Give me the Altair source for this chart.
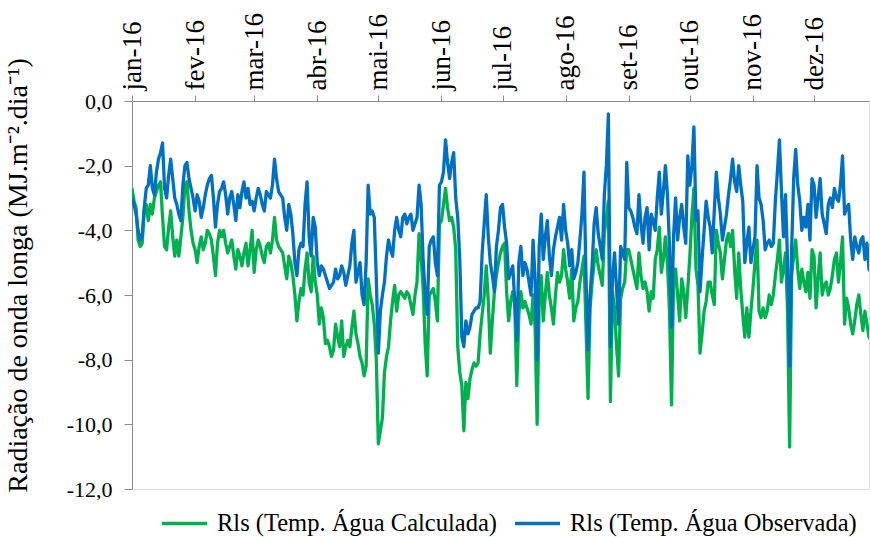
import altair as alt
import pandas as pd

# Daily values (1 Jan 2016 onward)
calc_jan = [-2.7, -3.1, -3.3, -4.3, -4.5, -4.4, -3.4, -3.2, -3.7, -3.2, -3.5, -3.0, -2.8, -2.6, -2.5, -3.6, -4.5, -4.6, -3.9, -3.4, -4.2, -4.8, -4.3, -4.8, -4.2, -3.6, -2.6, -2.5, -3.4, -4.0, -4.4]
calc_fev = [-4.6, -5.0, -4.5, -4.2, -4.6, -4.4, -4.0, -4.1, -4.3, -4.8, -5.4, -4.4, -4.0, -4.2, -4.0, -4.4, -4.7, -4.5, -4.3, -4.8, -5.2, -4.6, -4.8, -5.1, -4.7, -4.4, -5.1, -4.6, -4.0]
calc_mar = [-5.3, -4.6, -4.3, -4.5, -4.8, -5.0, -4.5, -4.4, -4.7, -4.3, -3.6, -4.3, -4.5, -4.6, -4.7, -5.1, -5.5, -4.8, -5.0, -5.4, -6.0, -6.8, -6.2, -5.8, -6.0, -5.2, -4.7, -5.6, -5.9, -4.8, -5.6]
calc_abr = [-6.0, -6.9, -6.4, -6.7, -7.5, -7.4, -7.6, -7.9, -7.7, -6.9, -7.3, -7.6, -6.8, -7.9, -7.6, -7.4, -7.6, -7.0, -6.5, -7.2, -7.5, -7.9, -8.1, -8.5, -8.2, -5.5, -6.0, -6.3, -6.9, -8.0]
calc_mai = [-10.6, -10.2, -9.8, -8.4, -7.9, -7.6, -6.8, -6.2, -5.7, -6.5, -6.0, -5.9, -6.0, -6.1, -5.9, -6.0, -6.3, -6.6, -6.0, -5.6, -4.1, -4.8, -5.8, -7.5, -8.5, -6.0, -5.9, -5.8, -6.2, -6.8, -3.8]
calc_jun = [-3.7, -3.2, -2.7, -3.3, -3.7, -3.6, -3.9, -4.6, -7.6, -8.4, -8.8, -10.2, -8.7, -9.2, -8.6, -8.3, -8.1, -8.2, -8.1, -7.2, -6.6, -6.0, -5.1, -6.2, -7.8, -6.8, -5.9, -5.4, -5.0, -4.7]
calc_jul = [-4.5, -4.4, -5.9, -6.8, -6.2, -5.9, -6.3, -8.8, -6.6, -5.9, -6.4, -6.2, -6.4, -6.6, -6.9, -6.0, -7.0, -10.0, -6.2, -5.4, -6.8, -6.0, -5.3, -6.0, -6.4, -6.9, -6.0, -5.3, -5.6, -5.4, -4.6]
calc_ago = [-5.2, -5.6, -6.1, -5.2, -6.8, -6.4, -6.2, -5.6, -5.2, -4.8, -7.0, -9.2, -6.4, -5.6, -5.0, -4.6, -5.1, -5.4, -5.7, -4.1, -3.6, -3.1, -9.3, -5.9, -6.4, -7.6, -8.5, -6.1, -5.8, -5.6, -4.6]
calc_set = [-4.6, -4.9, -5.2, -5.5, -5.8, -4.7, -5.4, -5.8, -5.6, -5.9, -6.5, -5.9, -6.1, -4.9, -4.6, -3.9, -5.3, -4.9, -4.2, -5.0, -6.5, -9.4, -5.6, -5.2, -6.0, -6.8, -5.5, -5.9, -6.7, -5.8]
calc_out = [-4.8, -3.6, -2.7, -5.2, -5.7, -7.8, -7.2, -6.5, -6.2, -5.6, -5.6, -6.0, -6.3, -4.0, -4.4, -4.7, -5.5, -4.9, -4.3, -4.1, -4.5, -4.0, -5.2, -6.1, -4.7, -5.8, -6.6, -7.3, -6.4, -7.3, -6.5]
calc_nov = [-5.8, -5.0, -4.3, -6.5, -6.7, -6.4, -6.7, -6.5, -6.0, -6.3, -6.0, -5.4, -4.9, -4.3, -5.6, -5.2, -4.7, -6.5, -10.7, -5.4, -4.8, -4.3, -5.2, -5.8, -5.2, -5.6, -5.9, -5.3, -6.1, -4.6]
calc_dez = [-4.8, -6.4, -5.5, -4.7, -6.0, -5.7, -5.6, -6.0, -5.8, -5.4, -4.9, -4.7, -5.6, -5.0, -4.2, -6.9, -6.1, -6.4, -6.9, -7.2, -6.8, -6.3, -6.0, -6.6, -7.1, -6.5, -6.9, -7.3, -7.4]

obs_jan = [-3.0, -3.2, -3.5, -4.0, -4.3, -4.2, -3.3, -2.7, -2.6, -2.0, -2.7, -2.9, -2.2, -1.8, -1.6, -1.3, -2.7, -3.0, -2.3, -1.8, -2.4, -3.0, -3.2, -3.5, -3.7, -2.6, -2.0, -1.9, -2.4, -2.7, -3.0]
obs_fev = [-3.4, -2.9, -3.1, -3.6, -3.3, -2.9, -2.6, -2.4, -2.3, -3.0, -3.9, -3.2, -2.8, -2.7, -2.5, -2.9, -3.5, -3.0, -2.8, -3.2, -3.7, -2.9, -3.3, -2.8, -2.5, -3.0, -2.7, -3.2, -3.1]
obs_mar = [-3.4, -3.0, -2.7, -2.9, -3.2, -3.4, -2.8, -2.9, -3.0, -2.6, -1.8, -2.4, -2.8, -2.9, -3.0, -3.6, -4.0, -3.2, -3.5, -4.1, -5.0, -5.4, -4.6, -4.4, -4.5, -3.2, -2.5, -4.2, -4.8, -3.6, -3.9]
obs_abr = [-5.0, -5.4, -5.1, -5.2, -5.4, -5.6, -5.8, -5.7, -5.6, -5.2, -5.5, -5.4, -5.1, -5.3, -5.7, -5.4, -5.1, -4.4, -4.0, -5.6, -5.3, -5.0, -6.0, -6.3, -5.0, -2.6, -3.5, -3.4, -3.6, -5.5]
obs_mai = [-7.8, -6.5, -6.0, -5.6, -4.8, -4.3, -4.6, -4.8, -4.0, -3.6, -4.0, -4.2, -3.6, -3.5, -3.8, -3.6, -3.5, -4.0, -3.8, -3.6, -2.6, -3.2, -4.9, -6.0, -6.6, -4.5, -4.3, -4.2, -5.0, -5.4, -2.6]
obs_jun = [-2.5, -2.2, -1.2, -1.9, -2.4, -1.9, -1.6, -3.0, -3.6, -4.9, -7.3, -7.6, -6.8, -7.2, -7.0, -6.6, -6.5, -6.4, -6.4, -6.2, -4.7, -3.8, -2.9, -4.2, -5.0, -5.4, -5.9, -4.5, -4.0, -3.3]
obs_jul = [-3.2, -3.9, -4.4, -5.5, -5.3, -5.1, -6.2, -7.4, -5.0, -4.5, -5.4, -5.0, -5.2, -5.6, -6.0, -4.3, -5.5, -8.0, -4.5, -3.5, -4.9, -4.2, -3.7, -4.8, -5.4, -4.6, -4.2, -3.9, -3.6, -4.3, -3.2]
obs_ago = [-4.0, -4.4, -5.1, -4.6, -5.5, -5.3, -5.0, -4.3, -3.5, -2.2, -5.5, -7.7, -6.0, -5.1, -3.8, -3.3, -4.1, -4.5, -4.9, -2.9, -2.0, -0.4, -7.6, -5.5, -4.7, -5.8, -6.9, -4.5, -4.7, -4.9, -1.9]
obs_set = [-3.3, -3.4, -3.6, -3.9, -4.1, -2.9, -3.8, -4.4, -3.6, -3.3, -4.6, -3.5, -3.7, -4.0, -3.0, -2.2, -3.5, -2.8, -2.0, -2.9, -4.5, -7.0, -4.2, -3.0, -4.3, -3.6, -3.2, -3.9, -4.4, -1.7]
obs_out = [-2.6, -2.0, -0.8, -3.7, -3.4, -5.9, -4.9, -4.0, -3.1, -3.6, -3.9, -4.7, -3.4, -2.2, -3.0, -3.5, -4.3, -3.9, -3.5, -2.9, -2.4, -1.8, -2.5, -2.8, -2.0, -2.6, -3.1, -5.0, -4.4, -3.9, -5.0]
obs_nov = [-4.6, -4.2, -2.0, -3.0, -3.2, -3.7, -4.6, -4.4, -4.3, -4.5, -4.4, -3.1, -2.2, -1.2, -2.8, -4.2, -2.9, -5.0, -8.2, -4.6, -2.4, -1.5, -2.6, -3.1, -4.0, -3.6, -3.9, -3.2, -4.3, -2.4]
obs_dez = [-2.6, -3.6, -3.0, -2.4, -3.5, -3.8, -4.1, -3.2, -3.0, -3.3, -2.7, -3.0, -3.1, -2.6, -1.7, -3.5, -3.3, -3.2, -4.3, -4.9, -4.2, -4.5, -4.7, -4.3, -4.2, -4.9, -4.4, -5.2, -5.3]

month_labels = ["jan-16", "fev-16", "mar-16", "abr-16", "mai-16", "jun-16",
                "jul-16", "ago-16", "set-16", "out-16", "nov-16", "dez-16"]
month_start_day = [0, 31, 60, 91, 121, 152, 182, 213, 244, 274, 305, 335]
y_ticks = [-12, -10, -8, -6, -4, -2, 0]

calc_label = "Rls (Temp. Água Calculada)"
obs_label = "Rls (Temp. Água Observada)"

calc = (calc_jan + calc_fev + calc_mar + calc_abr + calc_mai + calc_jun +
        calc_jul + calc_ago + calc_set + calc_out + calc_nov + calc_dez)
obs = (obs_jan + obs_fev + obs_mar + obs_abr + obs_mai + obs_jun +
       obs_jul + obs_ago + obs_set + obs_out + obs_nov + obs_dez)

rows = []
for i, v in enumerate(calc):
    rows.append({"day": i, "valor": v, "serie": calc_label})
for i, v in enumerate(obs):
    rows.append({"day": i, "valor": v, "serie": obs_label})
df = pd.DataFrame(rows)

font = "Liberation Serif"
gray = "#8C8C8C"

labels_js = "[" + ",".join("'" + m + "'" for m in month_labels) + "]"
starts_js = "[" + ",".join(str(d) for d in month_start_day) + "]"

chart = alt.Chart(df).mark_line(strokeWidth=3.3, clip=True, strokeJoin="round").encode(
    x=alt.X("day:Q",
            scale=alt.Scale(domain=[0, 362], nice=False, zero=False),
            axis=alt.Axis(orient="top", values=month_start_day,
                          labelExpr=labels_js + "[indexof(" + starts_js + ", datum.value)]",
                          labelAngle=270, labelAlign="left", labelBaseline="middle",
                          labelFont=font, labelFontSize=27, labelColor="black",
                          labelPadding=5, tickSize=6, tickColor=gray, domainColor=gray,
                          grid=False, title=None, labelOverlap=False)),
    y=alt.Y("valor:Q",
            scale=alt.Scale(domain=[-12, 0], nice=False),
            axis=alt.Axis(values=y_ticks,
                          labelExpr="replace(replace(format(datum.value, '.1f'), '.', ','), '\u2212', '-')",
                          labelFont=font, labelFontSize=22, labelColor="black",
                          labelPadding=12, tickSize=8, tickColor=gray, domainColor=gray,
                          grid=False,
                          title="Radiação de onda longa (MJ.m\u207b\u00b2.dia\u207b\u00b9)",
                          titleFont=font, titleFontSize=28, titleFontWeight="normal",
                          titleColor="black", titleAngle=270, titleX=-114, titleY=174,
                          titleAlign="center", titleBaseline="middle")),
    color=alt.Color("serie:N",
                    scale=alt.Scale(domain=[calc_label, obs_label], range=["#00B050", "#0070C0"]),
                    legend=alt.Legend(orient="none", legendX=28, legendY=398, direction="horizontal",
                                      title=None, symbolType="stroke", symbolSize=2025,
                                      symbolStrokeWidth=3.3, labelFont=font, labelFontSize=24.5,
                                      labelColor="black", labelOffset=8, columnPadding=11,
                                      labelLimit=0, padding=0)),
).properties(
    width=737, height=388,
    autosize=alt.AutoSizeParams(type="none"),
    padding={"left": 132, "top": 101, "right": 1, "bottom": 48},
).configure_view(strokeWidth=0).configure(background="white")

chart.save("out.html", embed_options={"renderer": "svg", "actions": False})
